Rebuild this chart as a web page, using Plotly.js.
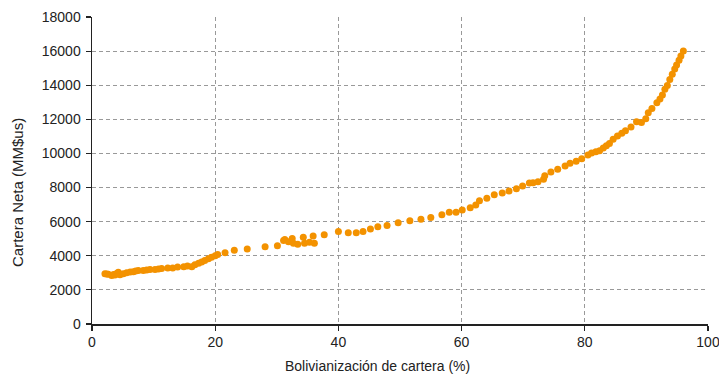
<!DOCTYPE html>
<html>
<head>
<meta charset="utf-8">
<script src="https://cdn.plot.ly/plotly-3.0.1.min.js"></script>
<style>html,body{margin:0;padding:0;background:#fff;}#chart{width:719px;height:380px;}</style>
</head>
<body>
<div id="chart"></div>
<script>
const bolivianizacion = [
  2.1, 2.4, 2.65, 3.2, 3.5, 3.73, 4.0, 4.27, 4.55, 5.09, 5.63, 6.2, 6.71, 7.1, 7.52, 8.33, 8.88, 9.42, 10.23,
  10.8, 11.3, 12.3, 13.1, 13.9, 14.9, 15.5, 16.2, 16.7, 17.3, 17.8, 18.3, 18.9, 19.4, 20.0, 20.4,
  21.6, 23.1, 25.2, 28.1, 30.1, 31.1, 31.3, 31.9, 32.5, 32.7, 33.4, 34.3, 34.5, 35.3, 35.9, 36.1,
  37.7, 40.0, 41.6, 42.9, 44.0, 45.2, 46.4, 47.9, 49.7, 51.6, 53.4, 55.0, 56.8, 58.0, 59.1, 60.1,
  61.4, 62.3, 62.9, 64.1, 65.3, 66.6, 67.7, 68.9, 69.9, 71.0, 71.6, 72.4, 73.3, 73.5, 74.5, 75.6,
  76.8, 77.6, 78.6, 79.5, 80.5, 81.1, 81.8, 82.4, 83.0, 83.5, 84.0, 84.6, 85.3, 86.0, 86.6, 87.5,
  88.4, 89.2, 89.9, 90.3, 90.9, 91.7, 92.2, 92.6, 93.0, 93.4, 93.8, 94.2, 94.6, 94.9, 95.3, 95.6, 96.0
];
const carteraNeta = [
  2950, 2930, 2910, 2850, 2900, 2870, 2960, 3030, 2890, 2950, 3010, 3050, 3070, 3110, 3130, 3130, 3170, 3200, 3200,
  3230, 3260, 3280, 3280, 3340, 3360, 3400, 3360, 3480, 3560, 3630, 3730, 3830, 3910, 4000, 4080,
  4180, 4320, 4400, 4530, 4590, 4900, 4960, 4820, 5020, 4730, 4670, 5080, 4730, 4790, 5160, 4730,
  5230, 5430, 5350, 5350, 5430, 5570, 5700, 5780, 5930, 6060, 6140, 6250, 6410, 6550, 6550, 6680,
  6820, 6980, 7230, 7370, 7580, 7680, 7800, 7930, 8090, 8260, 8280, 8340, 8480, 8690, 8910, 9070,
  9270, 9420, 9540, 9690, 9910, 10020, 10100, 10160, 10320, 10450, 10590, 10830, 11020, 11180, 11330, 11550,
  11860, 11820, 12030, 12390, 12640, 12970, 13190, 13420, 13760, 13990, 14340, 14640, 14950, 15180, 15470, 15710, 16000
];
const xTickVals = [0, 20, 40, 60, 80, 100];
const yTickVals = [0, 2000, 4000, 6000, 8000, 10000, 12000, 14000, 16000, 18000];
const xTitle = 'Bolivianización de cartera (%)';
const yTitle = 'Cartera Neta (MM$us)';

const trace = {
  x: bolivianizacion,
  y: carteraNeta,
  type: 'scatter',
  mode: 'markers',
  marker: {color: '#f39200', size: 7},
  hoverinfo: 'x+y',
  cliponaxis: false
};

const fam = '"Liberation Sans", Arial, sans-serif';
const tickFont = {family: fam, size: 14, color: '#222'};
const xTitleFont = {family: fam, size: 14, color: '#222'};
const yTitleFont = {family: fam, size: 15, color: '#222'};

const layout = {
  width: 719, height: 380,
  margin: {l: 92, r: 11, t: 17, b: 56},
  paper_bgcolor: '#fff', plot_bgcolor: '#fff',
  font: tickFont,
  showlegend: false,
  xaxis: {
    range: [0, 100], tickvals: xTickVals, ticktext: xTickVals.map(String),
    showline: true, linecolor: '#222', linewidth: 1.5,
    ticks: 'outside', ticklen: 5, tickcolor: '#222', tickwidth: 1.2,
    showgrid: true, gridcolor: '#999999', griddash: '4px,3px', gridwidth: 1,
    zeroline: false, ticklabeloverflow: 'allow',
    tickfont: tickFont
  },
  yaxis: {
    range: [0, 18000], tickvals: yTickVals, ticktext: yTickVals.map(String),
    showline: true, linecolor: '#222', linewidth: 1.5,
    ticks: 'outside', ticklen: 5, tickcolor: '#222', tickwidth: 1.2,
    showgrid: true, gridcolor: '#999999', griddash: '4px,3px', gridwidth: 1,
    zeroline: false, ticklabeloverflow: 'allow', ticklabelstandoff: 2,
    tickfont: tickFont
  },
  annotations: [
    {text: xTitle, xref: 'paper', yref: 'paper', x: (377 - 92) / 616, y: (324 - 366) / 307,
     xanchor: 'center', yanchor: 'middle', showarrow: false, font: xTitleFont},
    {text: yTitle, xref: 'paper', yref: 'paper', x: (17 - 92) / 616, y: (324 - 193) / 307,
     xanchor: 'center', yanchor: 'middle', textangle: -90, showarrow: false, font: yTitleFont}
  ]
};

Plotly.newPlot('chart', [trace], layout, {displayModeBar: false, staticPlot: true});
</script>
</body>
</html>
